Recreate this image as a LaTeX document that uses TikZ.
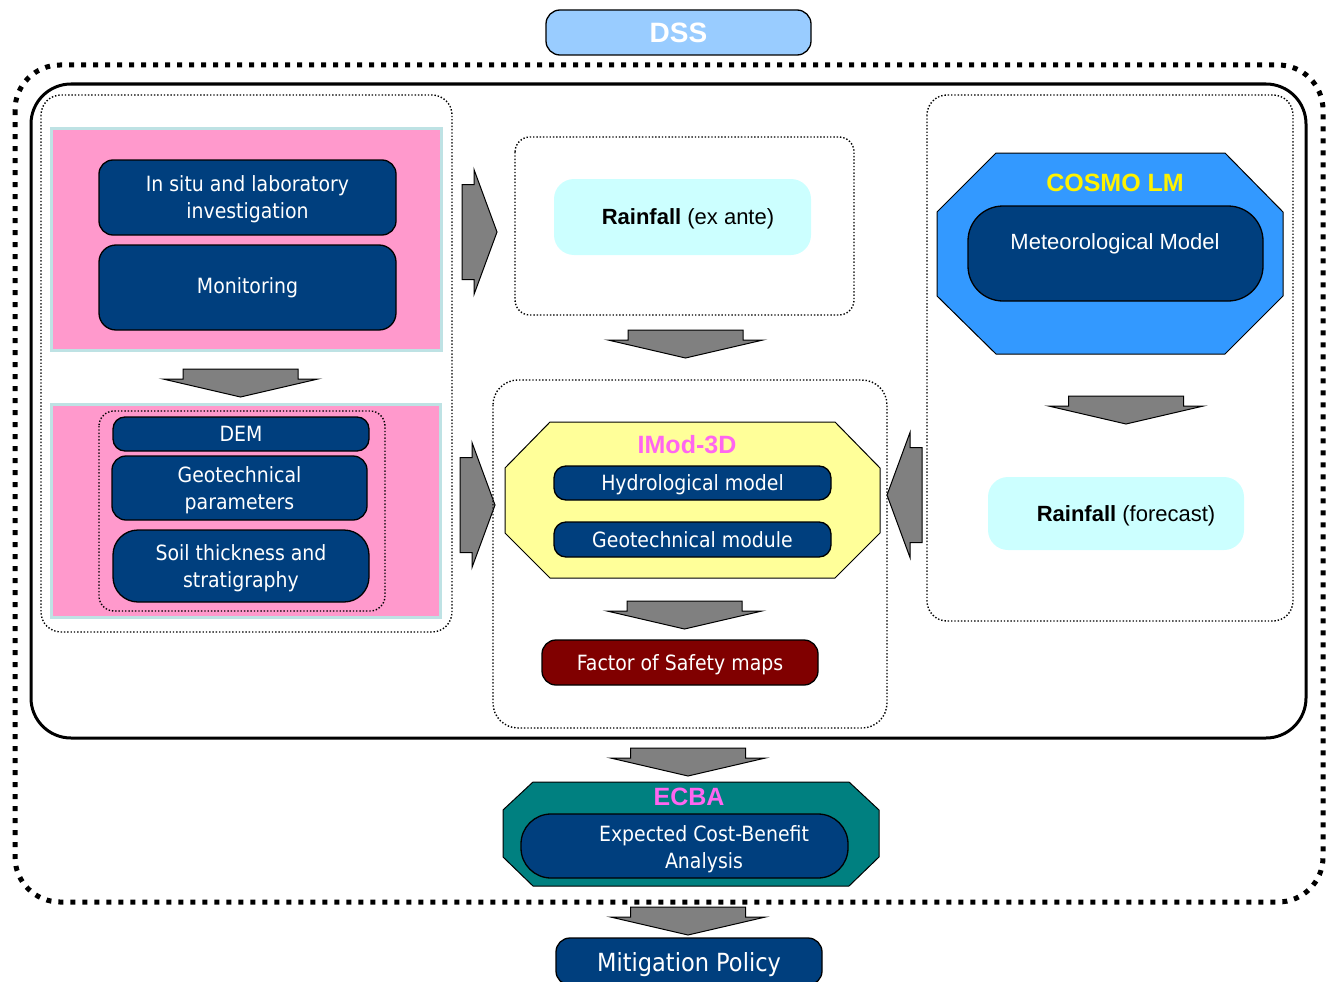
\documentclass[tikz,border=0pt]{standalone}
\usepackage{fontspec}
\setmainfont{Liberation Sans}
\newfontfamily\tahoma{DejaVu Sans}[FakeStretch=0.9]
\usepackage{tikz}
\usetikzlibrary{positioning, calc}
\definecolor{boxblue}{RGB}{0,63,126}
\definecolor{dssblue}{RGB}{153,204,255}
\definecolor{panelpink}{RGB}{255,153,204}
\definecolor{panelcyan}{RGB}{190,226,228}
\definecolor{raincyan}{RGB}{204,255,255}
\definecolor{imodyellow}{RGB}{255,255,153}
\definecolor{cosmoblue}{RGB}{51,153,255}
\definecolor{ecbateal}{RGB}{0,128,128}
\definecolor{fosred}{RGB}{128,0,0}
\definecolor{titlemag}{RGB}{255,102,240}
\definecolor{arrowgray}{RGB}{128,128,128}
\tikzset{
  bluebox/.style={rectangle, rounded corners=14pt, draw=black, line width=1.3pt,
    fill=boxblue, text=white, align=center, inner sep=0pt, text depth=0pt,
    font=\tahoma\fontsize{21}{27}\selectfont},
  boxtext/.style={text=white, align=center, inner sep=0pt,
    font=\tahoma\fontsize{21}{27}\selectfont},
  rainbox/.style={rectangle, rounded corners=20pt, fill=raincyan, inner sep=0pt,
    text depth=0pt, font=\fontsize{22}{26}\selectfont},
  panel/.style={fill=panelpink, draw=panelcyan, line width=3pt},
  group/.style={draw=black, line width=1.4pt, dash pattern=on 1.4pt off 1.9pt,
    rounded corners=20pt},
  octa/.style={draw=black, line width=1pt},
  title/.style={font=\bfseries\fontsize{25}{30}\selectfont, inner sep=0pt},
  blkarrow/.style={fill=arrowgray, draw=black, line width=1pt},
  downblk/.pic={\draw[blkarrow] (-57.5,0) -- (57.5,0) -- (57.5,10) -- (77.5,10)
    -- (0,28) -- (-77.5,10) -- (-57.5,10) -- cycle;},
  rightblk/.pic={\draw[blkarrow] (0,-47.5) -- (12,-47.5) -- (12,-62.5) -- (35,0)
    -- (12,62.5) -- (12,47.5) -- (0,47.5) -- cycle;}
}

\begin{document}
\begin{tikzpicture}[x=1pt, y=-1pt]
  \useasboundingbox (0,0) rectangle (1328,982);

  % DSS frame
  \node[rectangle, rounded corners=14pt, draw=black, line width=1.3pt, fill=dssblue,
    text=white, minimum width=265pt, minimum height=45pt,
    font=\bfseries\fontsize{28}{32}\selectfont] (dss) at (678.5,32.5) {DSS};
  \draw[line width=5pt, dash pattern=on 5pt off 7pt, rounded corners=45pt]
    (15,65) rectangle (1323,902);
  \draw[line width=3pt, rounded corners=40pt] (31,84) rectangle (1306,738);

  % Left column: field data
  \draw[group] (41,95) rectangle (452,632);
  \draw[panel] (51.5,128.5) rectangle (441.5,350.5);
  \node[bluebox, minimum width=297pt, minimum height=75pt] (insitu) at (247.5,197.5)
    {In situ and laboratory\\investigation};
  \node[bluebox, rounded corners=17pt, text depth=4pt, minimum width=297pt,
    minimum height=85pt] (monitor) at (247.5,287.5) {Monitoring};
  \pic at (240.5,369) {downblk};
  \draw[panel] (51,404) rectangle (440.5,617);
  \draw[group, rounded corners=15pt] (99,411) rectangle (385,611);
  \node[bluebox, rounded corners=12pt, minimum width=256pt, minimum height=34pt]
    (dem) at (241,434) {DEM};
  \node[bluebox, minimum width=255pt, minimum height=64pt] (geopar) at (239.5,488)
    {Geotechnical\\parameters};
  \node[bluebox, rounded corners=25pt, minimum width=256pt, minimum height=72pt]
    (soil) at (241,566) {Soil thickness and\\stratigraphy};

  % Middle column: IMod-3D
  \pic at (462,232) {rightblk};
  \pic at (460,505) {rightblk};
  \draw[group, rounded corners=15pt] (515,137) rectangle (854,315);
  \node[rainbox, minimum width=257pt, minimum height=76pt] (rainante) at (682.5,217)
    {\hspace*{11pt}\textbf{Rainfall} (ex ante)};
  \pic at (685.5,330) {downblk};
  \draw[group, rounded corners=25pt] (493,380) rectangle (887,728);
  \draw[octa, fill=imodyellow] (550,422) -- (835,422) -- (880,468) -- (880,533)
    -- (835,578) -- (550,578) -- (505,533) -- (505,468) -- cycle;
  \node[title, text=titlemag] (imod) at (687,445) {IMod-3D};
  \node[bluebox, rounded corners=12pt, minimum width=277pt, minimum height=34pt]
    (hydro) at (692.5,483) {Hydrological model};
  \node[bluebox, rounded corners=12pt, minimum width=277pt, minimum height=35pt]
    (geomod) at (692.5,539.5) {Geotechnical module};
  \pic at (684.5,601) {downblk};
  \node[bluebox, fill=fosred, minimum width=276pt, minimum height=45pt]
    (fos) at (680,662.5) {Factor of Safety maps};

  % Right column: COSMO LM
  \pic[xscale=-1] at (922,495) {rightblk};
  \draw[group] (927,95) rectangle (1293,621);
  \draw[octa, fill=cosmoblue] (996,153) -- (1225,153) -- (1283,212) -- (1283,296)
    -- (1225,354) -- (996,354) -- (937,296) -- (937,212) -- cycle;
  \node[title, text=yellow] (cosmo) at (1115,183) {COSMO LM};
  \node[bluebox, rounded corners=35pt, minimum width=295pt, minimum height=95pt]
    (met) at (1115.5,253.5) {};
  \node[boxtext, font=\fontsize{22}{26}\selectfont] (mettext) at (1115,244)
    {Meteorological Model};
  \pic at (1126,396) {downblk};
  \node[rainbox, minimum width=256pt, minimum height=73pt] (rainfc) at (1116,513.5)
    {\hspace*{20pt}\textbf{Rainfall} (forecast)};

  % ECBA and policy
  \pic at (688,748) {downblk};
  \draw[octa, fill=ecbateal] (533,782) -- (849,782) -- (879,810) -- (879,857)
    -- (849,886) -- (533,886) -- (503,857) -- (503,810) -- cycle;
  \node[title, text=titlemag] (ecba) at (689,797) {ECBA};
  \node[bluebox, rounded corners=30pt, minimum width=327pt, minimum height=64pt]
    (cba) at (684.5,846) {};
  \node[boxtext] (cbatext) at (704,849) {Expected Cost-Benefit\\Analysis};
  \pic at (688,907) {downblk};
  \node[bluebox, font=\tahoma\fontsize{25}{30}\selectfont, minimum width=266pt,
    minimum height=47pt] (policy) at (689,961.5) {Mitigation Policy};
\end{tikzpicture}
\end{document}
